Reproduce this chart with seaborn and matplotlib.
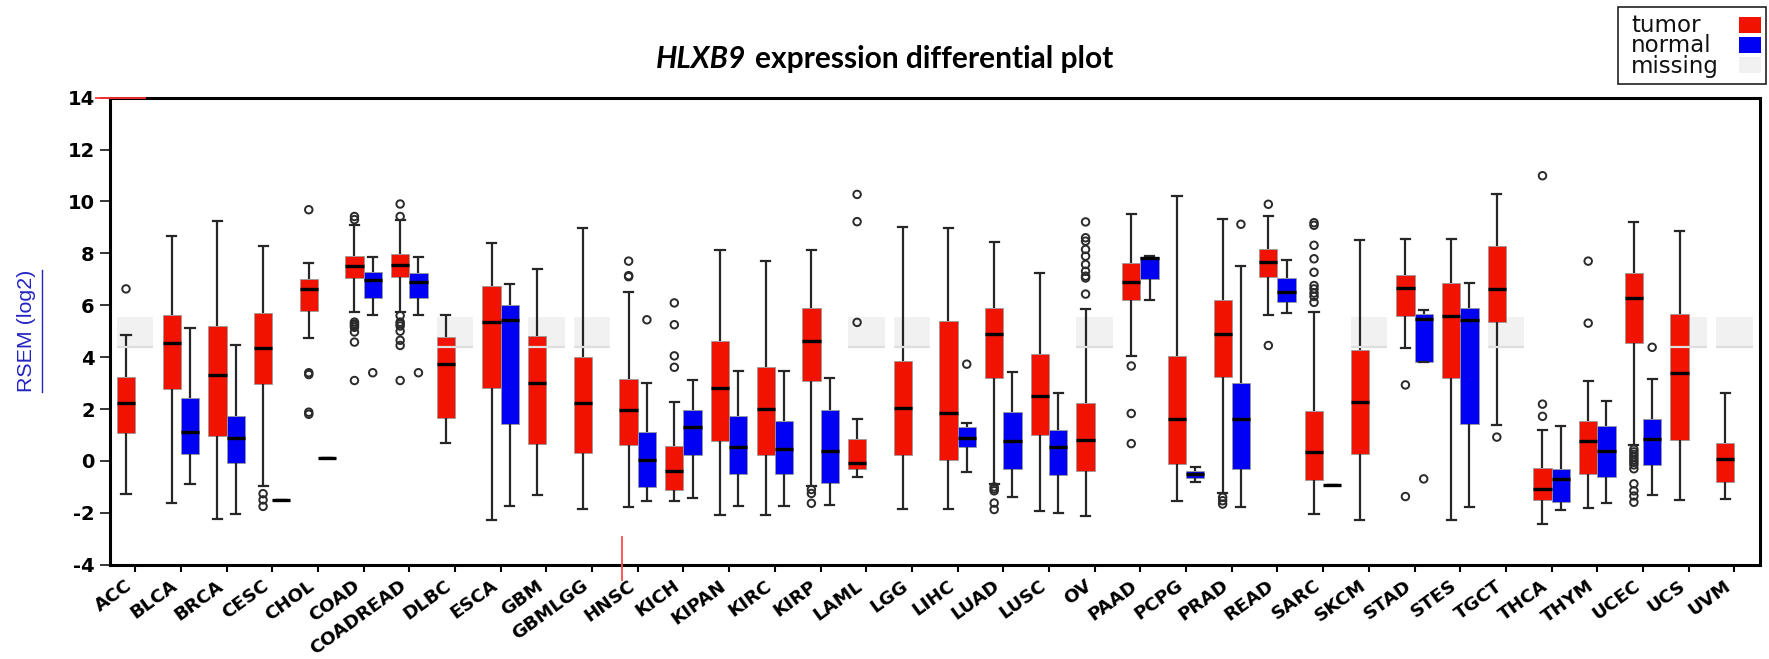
import numpy as np
import pandas as pd
import matplotlib
matplotlib.use("Agg")
import matplotlib.pyplot as plt
from matplotlib.patches import Rectangle
from matplotlib.lines import Line2D
import seaborn as sns

# ---------------- data ----------------
cats = ["ACC", "BLCA", "BRCA", "CESC", "CHOL", "COAD", "COADREAD", "DLBC", "ESCA",
        "GBM", "GBMLGG", "HNSC", "KICH", "KIPAN", "KIRC", "KIRP", "LAML", "LGG",
        "LIHC", "LUAD", "LUSC", "OV", "PAAD", "PCPG", "PRAD", "READ", "SARC",
        "SKCM", "STAD", "STES", "TGCT", "THCA", "THYM", "UCEC", "UCS", "UVM"]
groups = ["tumor", "normal"]

# tumor box statistics: lower whisker, Q1, median, Q3, upper whisker
tumor_lo  = [-1.29, -1.61, -2.25, -0.98, 4.74, 5.74, 5.74, 0.70, -2.26, -1.30, -1.85, -1.78,
             -1.55, -2.08, -2.08, -0.98, -0.62, -1.86, -1.86, -0.88, -1.91, -2.12, 4.06, -1.55,
             -1.24, 5.64, -2.04, -2.27, 4.34, -2.27, 1.38, -2.42, -1.82, 0.60, -1.50, -1.48]
tumor_q1  = [1.08, 2.76, 0.97, 2.95, 5.77, 7.06, 7.10, 1.66, 2.80, 0.67, 0.32, 0.63,
             -1.11, 0.77, 0.22, 3.09, -0.30, 0.22, 0.02, 3.21, 0.99, -0.37, 6.19, -0.11,
             3.25, 7.09, -0.75, 0.25, 5.57, 3.18, 5.35, -1.50, -0.49, 4.54, 0.79, -0.82]
tumor_med = [2.22, 4.54, 3.30, 4.37, 6.62, 7.52, 7.55, 3.74, 5.34, 2.99, 2.25, 1.98,
             -0.39, 2.82, 2.02, 4.64, -0.06, 2.06, 1.85, 4.89, 2.50, 0.82, 6.90, 1.60,
             4.90, 7.67, 0.33, 2.28, 6.65, 5.60, 6.63, -1.07, 0.77, 6.29, 3.38, 0.07]
tumor_q3  = [3.25, 5.64, 5.19, 5.70, 7.02, 7.90, 7.97, 4.76, 6.75, 4.80, 4.00, 3.16,
             0.59, 4.64, 3.63, 5.89, 0.83, 3.87, 5.38, 5.89, 4.11, 2.25, 7.63, 4.04,
             6.21, 8.15, 1.93, 4.28, 7.18, 6.86, 8.28, -0.26, 1.55, 7.25, 5.67, 0.69]
tumor_hi  = [4.86, 8.65, 9.25, 8.28, 7.61, 9.10, 9.30, 5.64, 8.39, 7.38, 8.97, 6.51,
             2.28, 8.13, 7.70, 8.13, 1.60, 9.02, 8.99, 8.43, 7.25, 5.85, 9.52, 10.22,
             9.31, 9.44, 5.73, 8.51, 8.54, 8.56, 10.28, 1.21, 3.08, 9.21, 8.86, 2.60]

# normal box statistics (None = normal samples missing)
N = None
normal_lo  = [N, -0.90, -2.04, -1.52, 0.12, 5.61, 5.61, N, -1.75, N, N, -1.55,
              -1.42, -1.73, -1.73, -1.69, N, N, -0.43, -1.37, -2.02, N, 6.21, -0.82,
              -1.76, 5.70, -0.91, N, 3.80, -1.76, N, -1.90, -1.60, -1.30, N, N]
normal_q1  = [N, 0.25, -0.08, -1.52, 0.12, 6.26, 6.26, N, 1.41, N, N, -1.01,
              0.22, -0.49, -0.49, -0.86, N, N, 0.54, -0.30, -0.53, N, 7.01, -0.66,
              -0.30, 6.11, -0.91, N, 3.83, 1.42, N, -1.59, -0.62, -0.17, N, N]
normal_med = [N, 1.10, 0.90, -1.52, 0.12, 6.97, 6.88, N, 5.42, N, N, 0.05,
              1.31, 0.54, 0.46, 0.38, N, N, 0.90, 0.77, 0.52, N, 7.81, -0.52,
              1.61, 6.51, -0.91, N, 5.48, 5.44, N, -0.69, 0.38, 0.85, N, N]
normal_q3  = [N, 2.41, 1.73, -1.52, 0.12, 7.29, 7.25, N, 6.00, N, N, 1.12,
              1.98, 1.73, 1.55, 1.98, N, N, 1.31, 1.87, 1.18, N, 7.85, -0.37,
              3.01, 7.05, -0.91, N, 5.66, 5.89, N, -0.30, 1.34, 1.61, N, N]
normal_hi  = [N, 5.12, 4.48, -1.52, 0.12, 7.87, 7.87, N, 6.80, N, N, 2.99,
              3.12, 3.48, 3.48, 3.21, N, N, 1.47, 3.42, 2.60, N, 7.89, -0.24,
              7.53, 7.76, -0.91, N, 5.83, 6.84, N, 1.34, 2.32, 3.14, N, N]

tumor_outliers = {
    "ACC": [6.63],
    "CESC": [-1.26, -1.50, -1.75],
    "CHOL": [9.68, 3.40, 3.33, 1.88, 1.80],
    "COAD": [9.30, 9.42, 5.35, 5.28, 5.22, 5.15, 4.97, 4.58, 3.10],
    "COADREAD": [9.90, 9.42, 5.60, 5.35, 5.28, 5.20, 5.00, 4.65, 4.45, 3.10],
    "HNSC": [7.70, 7.14, 7.10],
    "KICH": [6.09, 5.25, 4.05, 3.61],
    "KIRP": [-1.10, -1.25, -1.63],
    "LAML": [10.27, 9.22, 5.34],
    "LUAD": [-1.00, -1.08, -1.15, -1.62, -1.87],
    "OV": [9.21, 8.60, 8.47, 8.15, 7.89, 7.57, 7.31, 7.12, 7.05, 6.43],
    "PAAD": [3.66, 1.83, 0.67],
    "PRAD": [-1.40, -1.53, -1.66],
    "READ": [9.89, 4.45],
    "SARC": [9.18, 9.08, 8.31, 7.79, 7.27, 6.76, 6.63, 6.47, 6.34, 6.11],
    "STAD": [2.93, -1.37],
    "TGCT": [0.92],
    "THCA": [10.99, 2.19, 1.72],
    "THYM": [7.70, 5.31],
    "UCEC": [0.45, 0.35, 0.25, 0.15, 0.05, -0.05, -0.15, -0.30, -0.88, -1.15, -1.35, -1.59],
}
normal_outliers = {
    "COAD": [3.40],
    "COADREAD": [3.40],
    "HNSC": [5.44],
    "LIHC": [3.73],
    "PRAD": [9.12],
    "STAD": [-0.69],
    "UCEC": [4.38],
}

missing_band = [4.40, 5.56]          # placeholder box drawn where normals are missing
legend_labels = ["tumor", "normal", "missing"]
yticks = [-4, -2, 0, 2, 4, 6, 8, 10, 12, 14]

# ---------------- styling ----------------
RED, BLUE, MISSING = "#f21200", "#0000f2", "#f1f1f1"
W, H = 1769, 659


def fx(p):
    return p / W


def fy(p):
    return 1 - p / H


# ---------------- build tables ----------------
rows = []
for i, c in enumerate(cats):
    rows += [(c, "tumor", v) for v in (tumor_lo[i], tumor_q1[i], tumor_med[i], tumor_q3[i], tumor_hi[i])]
    if normal_lo[i] is not None:
        rows += [(c, "normal", v) for v in (normal_lo[i], normal_q1[i], normal_med[i], normal_q3[i], normal_hi[i])]
box_df = pd.DataFrame(rows, columns=["cancer", "group", "value"])

mrows = []
for i, c in enumerate(cats):
    if normal_lo[i] is None:
        lo, hi = missing_band
        mrows += [(c, "normal", v) for v in (lo, lo, lo, hi, hi)]
miss_df = pd.DataFrame(mrows, columns=["cancer", "group", "value"])

orows = []
for c, vals in tumor_outliers.items():
    orows += [(c, "tumor", v) for v in vals]
for c, vals in normal_outliers.items():
    orows += [(c, "normal", v) for v in vals]
out_df = pd.DataFrame(orows, columns=["cancer", "group", "value"])

# ---------------- plot ----------------
fig = plt.figure(figsize=(W / 100, H / 100), dpi=100)
ax = fig.add_axes([fx(110), fy(564.8), (1760 - 110) / W, (564.8 - 97.6) / H])

sns.boxplot(data=miss_df, x="cancer", y="value", hue="group", order=cats, hue_order=groups,
            palette={"tumor": RED, "normal": MISSING}, whis=(0, 100), width=0.8,
            saturation=1, legend=False, ax=ax,
            boxprops=dict(edgecolor="none", linewidth=0),
            medianprops=dict(color="#dedede", linewidth=1.6),
            whiskerprops=dict(linewidth=0), capprops=dict(linewidth=0))

sns.boxplot(data=box_df, x="cancer", y="value", hue="group", order=cats, hue_order=groups,
            palette={"tumor": RED, "normal": BLUE}, whis=(0, 100), width=0.8,
            saturation=1, legend=False, ax=ax,
            boxprops=dict(edgecolor="#9a9a9a", linewidth=0.6),
            medianprops=dict(color="black", linewidth=2.4),
            whiskerprops=dict(color="#262626", linewidth=1.6),
            capprops=dict(color="#262626", linewidth=1.6))

n0 = len(ax.collections)
sns.stripplot(data=out_df, x="cancer", y="value", hue="group", order=cats, hue_order=groups,
              dodge=True, jitter=False, palette={"tumor": "#222222", "normal": "#222222"},
              size=5.4, linewidth=1.4, legend=False, ax=ax, zorder=6)
for coll in ax.collections[n0:]:
    coll.set_facecolor("none")
    coll.set_edgecolor("#2a2a2a")

ax.set_xlim(-0.55, 35.56)
ax.set_ylim(-4, 14)
ax.set_yticks(yticks)
ax.set_yticklabels([str(t) for t in yticks])
ax.set_xlabel("")
ax.set_ylabel("")
for s in ax.spines.values():
    s.set_linewidth(2.2)
    s.set_color("black")

ax.tick_params(axis="y", length=7, width=1.1, pad=4, labelsize=14, colors="black")
ax.tick_params(axis="x", length=5, width=1.5, pad=3.5, colors="black")
for lab in ax.get_yticklabels():
    lab.set_fontfamily("DejaVu Sans")
    lab.set_fontweight("bold")
for lab in ax.get_xticklabels():
    lab.set_fontfamily("DejaVu Sans")
    lab.set_fontweight("bold")
    lab.set_fontsize(13.2)
    lab.set_rotation(36)
    lab.set_ha("right")
    lab.set_va("top")
    lab.set_rotation_mode("default")

# stray red marks present in the reference
ax.plot([-0.86, 0.22], [14, 14], color="#ff3030", lw=1.3, clip_on=False, zorder=7)
ax.plot([10.65, 10.65], [-2.93, -4.6], color="#ff4a4a", lw=1.3, clip_on=False, zorder=7)

# ---------------- title ----------------
fig.canvas.draw()
renderer = fig.canvas.get_renderer()
tfs = 20
t1 = fig.text(fx(656), fy(59), "HLXB9", fontfamily="Lato", fontweight="bold",
              fontstyle="italic", fontsize=tfs, ha="left", va="center")
t2 = fig.text(fx(700), fy(59), "expression differential plot", fontfamily="Lato",
              fontweight="bold", fontsize=tfs, ha="left", va="center")
w1 = t1.get_window_extent(renderer).width
w2 = t2.get_window_extent(renderer).width
gap = 0.28 * tfs * 100 / 72
scale = (1113 - 656) / (w1 + w2 + gap)
tfs2 = tfs * scale
t1.set_fontsize(tfs2)
t2.set_fontsize(tfs2)
w1 = t1.get_window_extent(renderer).width
t2.set_x(fx(656 + w1 + 0.28 * tfs2 * 100 / 72))

# ---------------- y label (blue, underlined) ----------------
yl = fig.text(fx(27), fy(331), "RSEM (log2)", rotation=90, fontfamily="Liberation Sans",
              fontsize=15.4, color="#2323c4", ha="center", va="center")
bb = yl.get_window_extent(renderer)
fig.add_artist(Line2D([fx(41.5), fx(41.5)], [bb.y0 / H, bb.y1 / H],
                      transform=fig.transFigure, color="#2323c4", lw=1.0))

# ---------------- legend ----------------
fig.add_artist(Rectangle((fx(1618), fy(84)), (1766 - 1618) / W, (84 - 7) / H,
                         transform=fig.transFigure, fill=False, edgecolor="#222222", lw=1.2))
leg_colors = [RED, BLUE, MISSING]
sq_tops = [17, 37, 57]
# multi-line text with va="baseline" aligns the baseline of the last line
fig.text(fx(1631), fy(73), "\n".join(legend_labels), fontfamily="DejaVu Sans",
         fontsize=16.5, linespacing=0.87, ha="left", va="baseline", color="#111111")
for col, st in zip(leg_colors, sq_tops):
    fig.add_artist(Rectangle((fx(1739), fy(st + 16)), 22 / W, 16 / H,
                             transform=fig.transFigure, facecolor=col, edgecolor="none"))

fig.savefig("out.png", dpi=100)
